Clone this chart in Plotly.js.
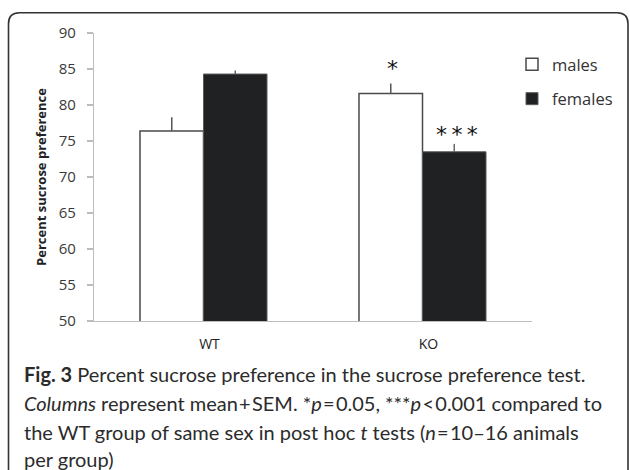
<!DOCTYPE html>
<html>
<head>
<meta charset="utf-8">
<script src="https://cdn.plot.ly/plotly-3.0.1.min.js"></script>
<style>html,body{margin:0;padding:0;background:#fff;}#chart{width:630px;height:470px;}</style>
</head>
<body>
<div id="chart"></div>
<script>
const groups = ["WT", "KO"];
const seriesNames = ["males", "females"];
const malesMean = [76.4, 81.6];
const malesSEM = [1.9, 1.4];
const femalesMean = [84.3, 73.5];
const femalesSEM = [0.5, 1.1];
const yTicks = [50, 55, 60, 65, 70, 75, 80, 85, 90];
const sigLabels = [["KO", "males", "*"], ["KO", "females", "*\u2009*\u2009*"]];

const FONT = "Open Sans, Noto Sans, sans-serif";
const CAPFONT = "Lato, Roboto, sans-serif";
const W = 630, H = 470;
const M = {l: 94, r: 98, t: 33, b: 149};
const pw = W - M.l - M.r, ph = H - M.t - M.b;
const px = x => (x - M.l) / pw;
const py = y => (H - M.b - y) / ph;

const males = {
  type: "bar", name: seriesNames[0], x: groups, y: malesMean,
  marker: {color: "#ffffff", line: {color: "#4a4a4a", width: 1.5}},
  error_y: {type: "data", symmetric: false, array: malesSEM, arrayminus: [0, 0], width: 0, thickness: 1.5, color: "#555"},
  legendgroup: "m"
};
const females = {
  type: "bar", name: seriesNames[1], x: groups, y: femalesMean,
  marker: {color: "#202122", line: {color: "#5a5a5a", width: 1}},
  error_y: {type: "data", symmetric: false, array: femalesSEM, arrayminus: [0, 0], width: 0, thickness: 1.5, color: "#666"},
  legendgroup: "f"
};

// frame with rounded corners (pixel coords -> paper)
const fx0 = 8.5, fy0 = 12.7, fx1 = 628, fy1 = 480, r = 11;
const framePath = [
  "M", px(fx0), py(fy1),
  "L", px(fx0), py(fy0 + r),
  "Q", px(fx0), py(fy0), px(fx0 + r), py(fy0),
  "L", px(fx1 - r), py(fy0),
  "Q", px(fx1), py(fy0), px(fx1), py(fy0 + r),
  "L", px(fx1), py(fy1)
].join(" ");

const annotations = [];
const sigOffset = {males: -30, females: 34};
const sigShift = {males: 0, females: -5};
sigLabels.forEach(([g, s, txt]) => {
  const gi = groups.indexOf(g);
  const top = s === "males" ? malesMean[gi] + malesSEM[gi] : femalesMean[gi] + femalesSEM[gi];
  annotations.push({
    x: g, y: top, xref: "x", yref: "y", text: txt, showarrow: false,
    xshift: sigOffset[s], yanchor: "bottom", yshift: sigShift[s],
    font: {family: "DejaVu Sans, sans-serif", size: 22, color: "#111"}
  });
});

const T = "\u200A";
const captionLines = [
  "<b>Fig. 3</b> Percent sucrose preference in the sucrose preference test.",
  "<i>Columns</i> represent mean" + T + "+" + T + "SEM. *<i>p</i>" + T + "=" + T + "0.05, ***<i>p</i>" + T + "&lt;" + T + "0.001 compared to",
  "the WT group of same sex in post hoc <i>t</i> tests (<i>n</i>" + T + "=" + T + "10–16 animals",
  "per group)"
];
const captionY = [373.5, 403, 432, 459];
captionLines.forEach((t, i) => {
  annotations.push({
    xref: "paper", yref: "paper", x: px(22), y: py(captionY[i]),
    xanchor: "left", yanchor: "middle", align: "left", showarrow: false,
    text: t, font: {family: CAPFONT, size: 20, color: "#2b2b2b"}
  });
});

const layout = {
  width: W, height: H, margin: M,
  paper_bgcolor: "#fff", plot_bgcolor: "#fff",
  font: {family: FONT, color: "#333"},
  barmode: "group", bargap: 0.42, bargroupgap: 0,
  showlegend: true,
  legend: {
    x: px(512), y: py(47), xanchor: "left", yanchor: "top",
    font: {family: FONT, size: 16.5, color: "#333"},
    traceorder: "grouped", tracegroupgap: 10, itemwidth: 30,
    bgcolor: "rgba(0,0,0,0)"
  },
  xaxis: {
    showline: true, linecolor: "#bdbdbd", linewidth: 1.2, ticks: "",
    tickfont: {family: FONT, size: 14, color: "#222"},
    ticklabelstandoff: 10, ticklabelshift: 6,
    showgrid: false, zeroline: false, fixedrange: true
  },
  yaxis: {
    range: [50, 90], tickvals: yTicks, ticktext: yTicks.map(String),
    showline: true, linecolor: "#bdbdbd", linewidth: 1.2,
    ticks: "outside", ticklen: 6, tickcolor: "#bdbdbd", tickwidth: 1.2,
    ticklabelstandoff: 8,
    tickfont: {family: FONT, size: 15, color: "#3a3a3a"},
    showgrid: false, zeroline: false,
    title: {text: "<b>Percent sucrose preference</b>", font: {family: FONT, size: 13, color: "#222"}, standoff: 9},
    automargin: false
  },
  shapes: [{
    type: "path", xref: "paper", yref: "paper", path: framePath,
    line: {color: "#333", width: 1.6}
  }],
  annotations: annotations
};

Plotly.newPlot("chart", [males, females], layout, {staticPlot: true, displayModeBar: false});
</script>
</body>
</html>
